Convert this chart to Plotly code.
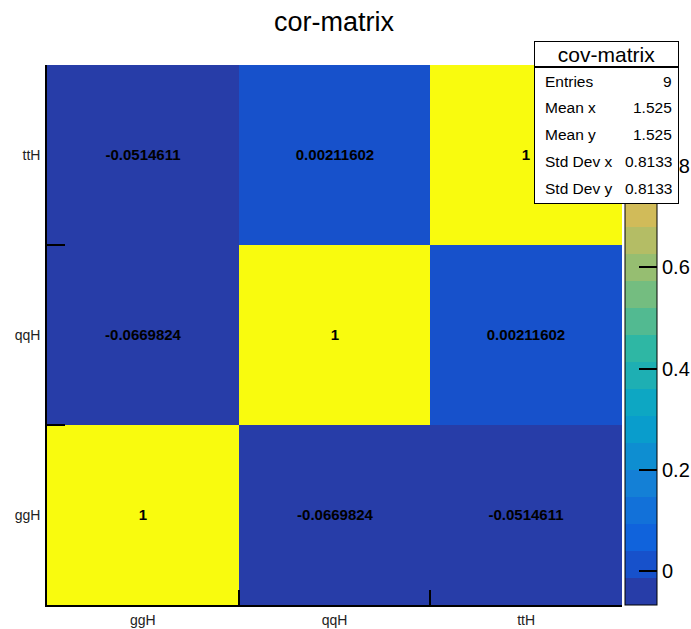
import plotly.graph_objects as go

# ---- data -------------------------------------------------------------
processes = ["ggH", "qqH", "ttH"]
# correlation matrix, rows = y category, columns = x category
corr_ggH = [1, -0.0669824, -0.0514611]
corr_qqH = [-0.0669824, 1, 0.00211602]
corr_ttH = [-0.0514611, 0.00211602, 1]
corr_rows = [corr_ggH, corr_qqH, corr_ttH]

stats_title = "cov-matrix"
stats_labels = ["Entries", "Mean x", "Mean y", "Std Dev x", "Std Dev y"]
stats_values = ["9", "1.525", "1.525", "0.8133", "0.8133"]

colorbar_ticks = [0, 0.2, 0.4, 0.6, 0.8]

# ---- palette (ROOT kBird, 20 contour bands) ---------------------------
stops = [0.0, 0.125, 0.25, 0.375, 0.5, 0.625, 0.75, 0.875, 1.0]
red = [0.2082, 0.0592, 0.0780, 0.0232, 0.1802, 0.5301, 0.8186, 0.9956, 0.9764]
green = [0.1664, 0.3599, 0.5041, 0.6419, 0.7178, 0.7492, 0.7328, 0.7862, 0.9832]
blue = [0.5293, 0.8684, 0.8385, 0.7914, 0.6425, 0.4662, 0.3499, 0.1968, 0.0539]


def bird(p):
    for k in range(len(stops) - 1):
        if stops[k] <= p <= stops[k + 1]:
            f = (p - stops[k]) / (stops[k + 1] - stops[k])
            r = red[k] + (red[k + 1] - red[k]) * f
            g = green[k] + (green[k + 1] - green[k]) * f
            b = blue[k] + (blue[k + 1] - blue[k]) * f
            return f"rgb({round(r*255)},{round(g*255)},{round(b*255)})"
    return f"rgb({round(red[-1]*255)},{round(green[-1]*255)},{round(blue[-1]*255)})"


NDIV, NCOL = 20, 255
colorscale = []
for i in range(NDIV):
    idx = int((i + 0.99) * NCOL / NDIV)
    c = bird(idx / (NCOL - 1))
    colorscale.append([i / NDIV, c])
    colorscale.append([(i + 1) / NDIV, c])

flat = [v for row in corr_rows for v in row]
zmin, zmax = min(flat), max(flat)
cell_text = [[f"<b>{v:g}</b>" for v in row] for row in corr_rows]

# ---- geometry helpers (pixel -> paper) --------------------------------
W, H = 691, 629
L, R, T, B = 47, 622, 65, 605


def px(x):
    return (x - L) / (R - L)


def py(y):
    return (B - y) / (B - T)


FONT = "Liberation Sans, Arial, Helvetica, sans-serif"

fig = go.Figure(
    go.Heatmap(
        z=corr_rows,
        x=processes,
        y=processes,
        text=cell_text,
        texttemplate="%{text}",
        textfont=dict(family=FONT, size=15, color="black"),
        colorscale=colorscale,
        zmin=zmin,
        zmax=zmax,
        hoverinfo="skip",
        colorbar=dict(
            x=px(625),
            xanchor="left",
            xpad=0,
            y=0.5,
            yanchor="middle",
            ypad=0,
            len=1,
            lenmode="fraction",
            thickness=32,
            outlinewidth=1,
            outlinecolor="black",
            tickvals=colorbar_ticks,
            ticktext=[f"{t:g}" for t in colorbar_ticks],
            ticks="inside",
            ticklen=18,
            tickwidth=1.5,
            tickcolor="black",
            tickfont=dict(family=FONT, size=20, color="black"),
        ),
    )
)

axis_common = dict(
    type="category",
    categoryorder="array",
    categoryarray=processes,
    tickson="boundaries",
    ticks="inside",
    tickcolor="black",
    tickwidth=1.5,
    showline=True,
    linecolor="black",
    linewidth=1.5,
    showgrid=False,
    zeroline=False,
    tickfont=dict(family=FONT, size=14, color="#222"),
)

fig.update_layout(
    width=W,
    height=H,
    margin=dict(l=L, r=W - R, t=T, b=H - B, autoexpand=False),
    paper_bgcolor="white",
    plot_bgcolor="white",
    title=dict(
        text="cor-matrix",
        x=334 / W,
        xanchor="center",
        y=1 - 22 / H,
        yanchor="middle",
        font=dict(family=FONT, size=27, color="black"),
    ),
    xaxis=dict(axis_common, ticklen=15, ticklabelstandoff=1),
    yaxis=dict(axis_common, ticklen=18, ticklabelstandoff=2),
)

# ---- statistics box ---------------------------------------------------
box_l, box_r = 534, 679
box_t, box_sep, box_b = 41, 67, 204

annotations = [
    dict(
        text=stats_title,
        x=px(box_l), y=py(box_t), xanchor="left", yanchor="top",
        width=box_r - box_l - 2, height=box_sep - box_t - 2,
        bgcolor="white", bordercolor="black", borderwidth=1, borderpad=0,
        font=dict(family=FONT, size=21, color="black"),
    ),
    dict(
        text=" ",
        x=px(box_l), y=py(box_sep), xanchor="left", yanchor="top",
        width=box_r - box_l - 2, height=box_b - box_sep - 2,
        bgcolor="white", bordercolor="black", borderwidth=1, borderpad=0,
        font=dict(family=FONT, size=16, color="black"),
    ),
]
row_y = [81, 108, 134, 161, 188]
for lab, val, yy in zip(stats_labels, stats_values, row_y):
    annotations.append(dict(
        text=lab, x=px(543), y=py(yy), xanchor="left", yanchor="middle",
        font=dict(family=FONT, size=15.5, color="black"),
    ))
    annotations.append(dict(
        text=val, x=px(674), y=py(yy), xanchor="right", yanchor="middle",
        font=dict(family=FONT, size=15.5, color="black"),
    ))

for a in annotations:
    a.update(xref="paper", yref="paper", showarrow=False)
fig.update_layout(annotations=annotations)

fig.write_html("out.html")
